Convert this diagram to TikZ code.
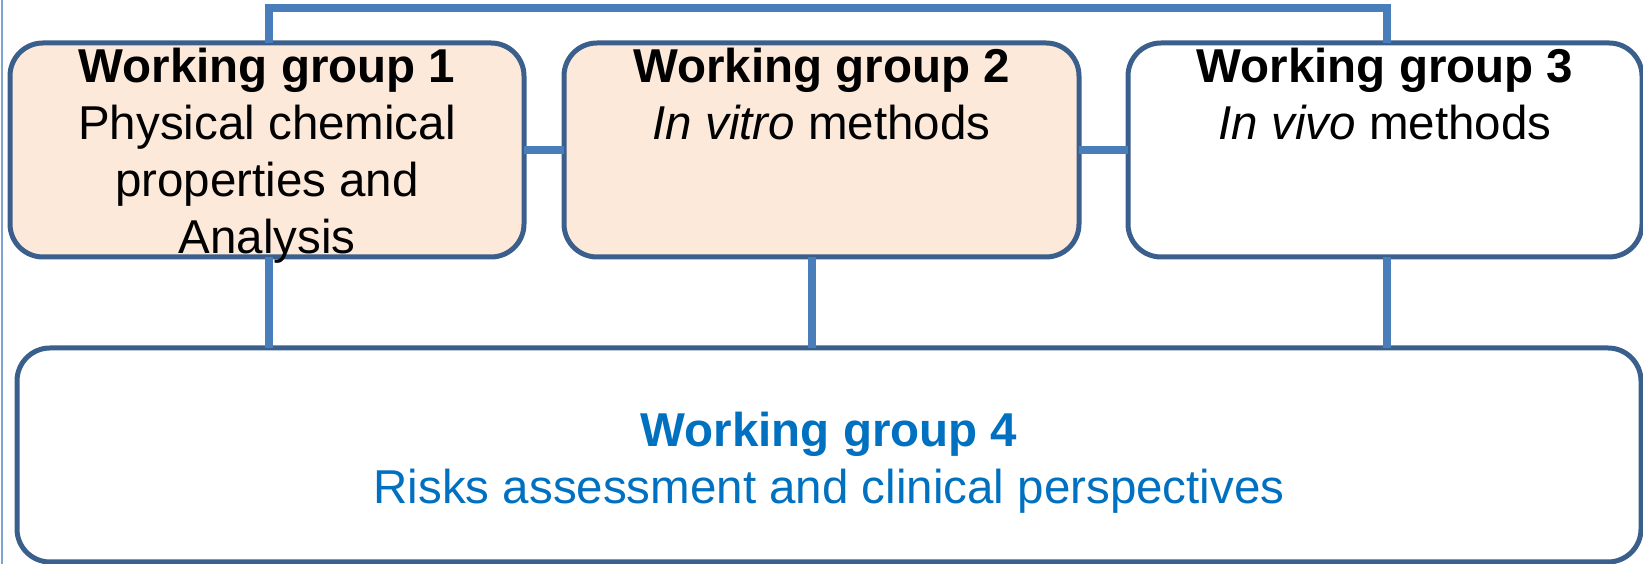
\documentclass[tikz,border=0pt]{standalone}
\usepackage{fontspec}
\setmainfont{Liberation Sans}
\usetikzlibrary{calc}

\definecolor{boxline}{HTML}{3B5F8C}
\definecolor{linkline}{HTML}{4A7EBB}
\definecolor{peach}{HTML}{FDE9D9}
\definecolor{wgblue}{HTML}{0070C0}
\definecolor{edgeblue}{HTML}{7FA3D3}

\tikzset{
  wgbox/.style={draw=boxline, line width=5pt, rounded corners=33pt,
    minimum height=214pt, inner sep=0pt, outer sep=0pt},
  link/.style={draw=linkline, line width=7.5pt},
  wgtext/.style={anchor=north, align=center, inner sep=0pt,
    font=\fontsize{47.5}{57}\selectfont},
}

\begin{document}
\begin{tikzpicture}[x=1pt,y=1pt]
  \useasboundingbox (0,0) rectangle (1643,564);

  % thin rule along the left margin
  \coordinate (ruletop) at (2,564);
  \coordinate (rulebot) at (2,0);
  \draw[edgeblue, line width=1.5pt] (ruletop) -- (rulebot);

  % working group boxes
  \node[wgbox, fill=peach, minimum width=514pt] (wg1) at (267,414) {};
  \node[wgbox, fill=peach, minimum width=515pt] (wg2) at (821.5,414) {};
  \node[wgbox, fill=white, minimum width=514pt] (wg3) at (1385,414) {};
  \node[wgbox, fill=white, minimum width=1624pt] (wg4) at (829,109) {};

  % connector anchors
  \coordinate (topbar) at (800,556);
  \coordinate (c1) at (269,0);
  \coordinate (c2) at (812,0);
  \coordinate (c3) at (1387,0);

  % connectors
  \draw[link] (wg1.north -| c1) |- (topbar) -| (wg3.north -| c3);
  \draw[link] (wg1.east) -- (wg2.west);
  \draw[link] (wg2.east) -- (wg3.west);
  \draw[link] (wg1.south -| c1) -- (wg4.north -| c1);
  \draw[link] (wg2.south -| c2) -- (wg4.north -| c2);
  \draw[link] (wg3.south -| c3) -- (wg4.north -| c3);

  % box texts
  \node[wgtext] (t1) at (267,522)
    {\strut\textbf{Working group 1}\\Physical chemical\\properties and\\Analysis};
  \node[wgtext] (t2) at (821.5,522)
    {\strut\textbf{Working group 2}\\\textit{In vitro} methods};
  \node[wgtext] (t3) at (1385,522)
    {\strut\textbf{Working group 3}\\\textit{In vivo} methods};
  \node[wgtext, text=wgblue] (t4) at (829,158)
    {\strut\textbf{Working group 4}\\Risks assessment and clinical perspectives};
\end{tikzpicture}
\end{document}
